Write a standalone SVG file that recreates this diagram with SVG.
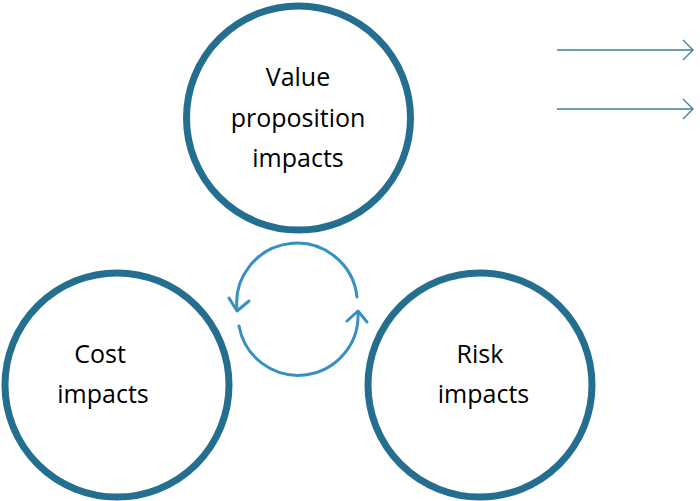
<svg xmlns="http://www.w3.org/2000/svg" width="700" height="501" viewBox="0 0 700 501">
<style>
.node circle{fill:#fff;stroke:#246f8f;stroke-width:7}
.lbl{font-family:"Open Sans","Liberation Sans",sans-serif;font-size:25px;fill:#000;text-anchor:middle}
.cyc{fill:none;stroke:#3690c2;stroke-width:3;stroke-linecap:round;stroke-linejoin:round}
.arr{fill:none;stroke:#3f7fa0;stroke-width:1.4}
</style>
<rect width="700" height="501" fill="#fff"/>
<g id="value" class="node">
<circle cx="298.5" cy="118" r="112"/>
<text class="lbl" x="298" y="86">Value</text>
<text class="lbl" x="298" y="127">proposition</text>
<text class="lbl" x="298" y="167">impacts</text>
</g>
<g id="cost" class="node">
<circle cx="117" cy="385" r="112"/>
<text class="lbl" x="100" y="363">Cost</text>
<text class="lbl" x="103" y="403">impacts</text>
</g>
<g id="risk" class="node">
<circle cx="480" cy="385" r="112"/>
<text class="lbl" x="480" y="363">Risk</text>
<text class="lbl" x="483.5" y="403">impacts</text>
</g>
<g id="connectors">
<path class="cyc" d="M357 297 A60 60 0 1 0 237 310"/>
<polyline class="cyc" points="229,298 237,311 249,301"/>
<path class="cyc" d="M239 326 A60 60 0 0 0 358 313"/>
<polyline class="cyc" points="347,321 358,311 367,322"/>
<line class="arr" x1="557" y1="50" x2="693" y2="50"/>
<polyline class="arr" points="683,40 693,50 683,60"/>
<line class="arr" x1="557" y1="109" x2="693" y2="109"/>
<polyline class="arr" points="683,99 693,109 683,119"/>
</g>
</svg>
